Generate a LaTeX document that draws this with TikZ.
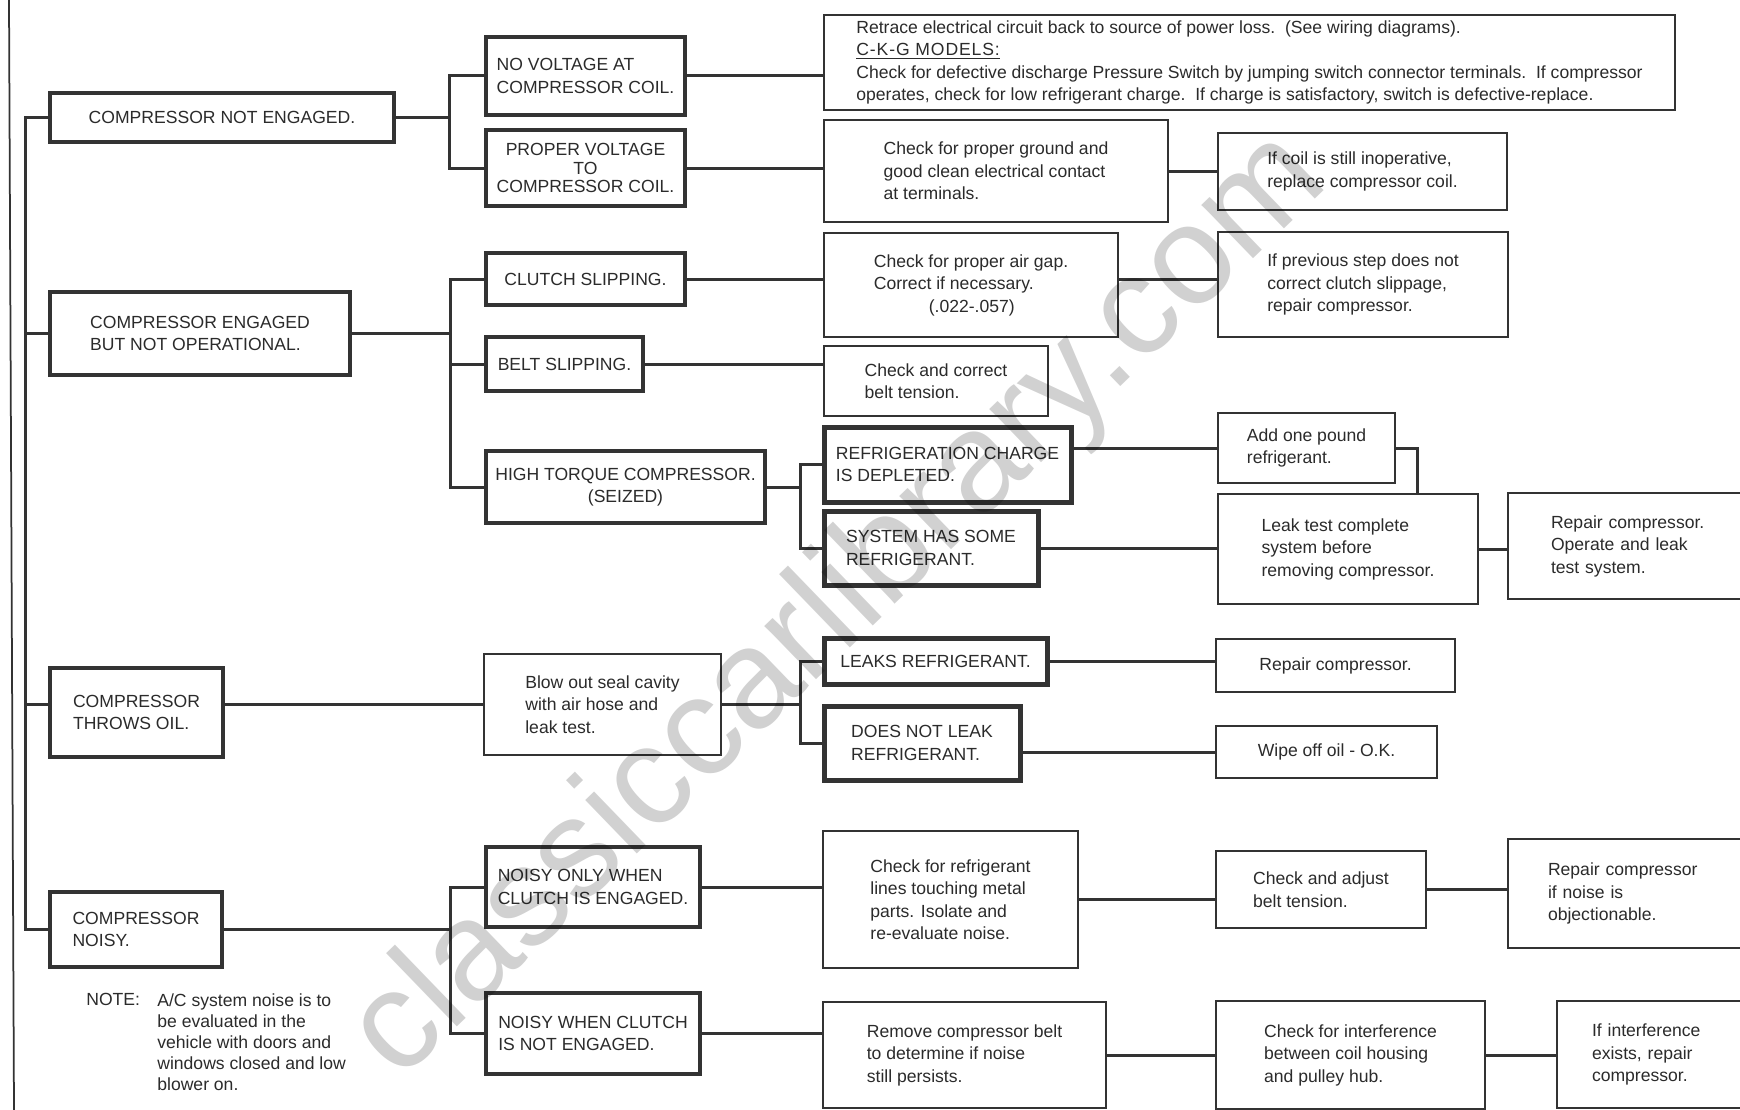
\documentclass[tikz,border=0pt]{standalone}
\usepackage{fontspec}
\setmainfont{Liberation Sans}
\usetikzlibrary{calc}
\definecolor{ink}{HTML}{333333}
\definecolor{inktext}{HTML}{2B2B2B}

\begin{document}
\begin{tikzpicture}[x=0.2mm,y=-0.2mm,
  box/.style={draw=ink,fill=white,inner sep=3pt,align=left,text=inktext,
    font=\fontsize{10}{12.8}\selectfont},
  wh/.style 2 args={minimum width=#1*0.2mm,minimum height=#2*0.2mm},
  symptom/.style={box,line width=0.7mm},
  condition/.style={box,line width=0.8mm},
  finding/.style={box,line width=1mm},
  remedy/.style={box,line width=0.4mm},
  conn/.style={draw=ink,line width=0.6mm},
  frame/.style={draw=ink,line width=0.35mm},
  notetext/.style={align=left,inner sep=0pt,text=inktext,font=\fontsize{10}{12}\selectfont},
  watermark/.style={text=black,text opacity=0.18,rotate=44,inner sep=0pt,font=\fontsize{80}{80}\selectfont}
]
\useasboundingbox (0,0) rectangle (1740,1110);
\fill[white] (0,0) rectangle (1740,1110);
\clip (0,0) rectangle (1740,1110);

% page edge
\draw[frame] (9,0) -- (14,1110);

% symptoms
\node[symptom,wh={344}{49}] (notengaged) at (222,117.5) {COMPRESSOR NOT ENGAGED.};
\node[symptom,wh={300}{83}] (notoperational) at (200,333.5) {COMPRESSOR ENGAGED\\BUT NOT OPERATIONAL.};
\node[symptom,wh={173}{89}] (throwsoil) at (136.5,712.5) {COMPRESSOR\\THROWS OIL.};
\node[symptom,wh={172}{75}] (noisy) at (136,929.5) {COMPRESSOR\\NOISY.};

% conditions
\node[condition,wh={199}{78}] (novoltage) at (585.5,76) {NO VOLTAGE AT\\COMPRESSOR COIL.};
\node[condition,wh={199}{76},align=center,font=\fontsize{10}{10.5}\selectfont] (propervoltage) at (585.5,168)
  {PROPER VOLTAGE\\TO\\COMPRESSOR COIL.};
\node[condition,wh={199}{52}] (clutchslip) at (585.5,279) {CLUTCH SLIPPING.};
\node[condition,wh={157}{54}] (beltslip) at (564.5,364) {BELT SLIPPING.};
\node[condition,wh={279}{72},align=center] (hightorque) at (625.5,487) {HIGH TORQUE COMPRESSOR.\\(SEIZED)};
\node[condition,wh={214}{80}] (noisyengaged) at (593,887) {NOISY ONLY WHEN\\CLUTCH IS ENGAGED.};
\node[condition,wh={214}{81}] (noisyfree) at (593,1033.5) {NOISY WHEN CLUTCH\\IS NOT ENGAGED.};
\node[remedy,wh={237}{101}] (blowout) at (602.5,704.5) {Blow out seal cavity\\with air hose and\\leak test.};

% findings
\node[finding,wh={247}{75}] (depleted) at (947.5,464.5) {REFRIGERATION CHARGE\\IS DEPLETED.};
\node[finding,wh={214}{74}] (somecharge) at (931,548) {SYSTEM HAS SOME\\REFRIGERANT.};
\node[finding,wh={223}{46}] (leaks) at (935.5,661) {LEAKS REFRIGERANT.};
\node[finding,wh={196}{74}] (noleak) at (922,743) {DOES NOT LEAK\\REFRIGERANT.};

% remedies
\node[remedy,wh={851}{95}] (retrace) at (1249.5,62.5)
  {Retrace electrical circuit back to source of power loss.\ \ (See wiring diagrams).\\
   {\addfontfeature{LetterSpace=5}\underline{C-K-G MODELS:}}\\
   Check for defective discharge Pressure Switch by jumping switch connector terminals.\ \ If compressor\\
   operates, check for low refrigerant charge.\ \ If charge is satisfactory, switch is defective-replace.};
\node[remedy,wh={344}{102}] (ground) at (996,171) {Check for proper ground and\\good clean electrical contact\\at terminals.};
\node[remedy,wh={289}{77}] (coil) at (1362.5,171.5) {If coil is still inoperative,\\replace compressor coil.};
\node[remedy,wh={294}{104}] (airgap) at (971,285) {Check for proper air gap.\\Correct if necessary.\\\hspace*{11mm}(.022-.057)};
\node[remedy,wh={290}{105}] (slippage) at (1363,284.5) {If previous step does not\\correct clutch slippage,\\repair compressor.};
\node[remedy,wh={224}{70}] (belttension) at (936,381) {Check and correct\\belt tension.};
\node[remedy,wh={177}{70}] (addpound) at (1306.5,448) {Add one pound\\refrigerant.};
\node[remedy,wh={260}{110}] (leaktest) at (1348,549) {Leak test complete\\system before\\removing compressor.};
\node[remedy,wh={245}{106},text width=31.8mm] (repairleak) at (1630.5,546) {Repair compressor.\\Operate and leak\\test system.};
\node[remedy,wh={239}{53}] (repair) at (1335.5,665.5) {Repair compressor.};
\node[remedy,wh={221}{52}] (wipe) at (1326.5,752) {Wipe off oil - O.K.};
\node[remedy,wh={255}{137}] (lines) at (950.5,899.5) {Check for refrigerant\\lines touching metal\\parts. Isolate and\\re-evaluate noise.};
\node[remedy,wh={210}{77}] (adjust) at (1321,889.5) {Check and adjust\\belt tension.};
\node[remedy,wh={245}{109},text width=33mm] (objectionable) at (1630.5,893.5) {Repair compressor\\if noise is\\objectionable.};
\node[remedy,wh={283}{106}] (removebelt) at (964.5,1055) {Remove compressor belt\\to determine if noise\\still persists.};
\node[remedy,wh={269}{108}] (interference) at (1350.5,1055) {Check for interference\\between coil housing\\and pulley hub.};
\node[remedy,wh={195}{107},text width=25mm] (interfere) at (1654.5,1054.5) {If interference\\exists, repair\\compressor.};

% note
\node[notetext,anchor=north west] (notehead) at (86,993) {NOTE:};
\node[notetext,anchor=north west] (notebody) at (157,993)
  {A/C system noise is to\\be evaluated in the\\vehicle with doors and\\windows closed and low\\blower on.};

% buses
\coordinate (mainbus) at (25,0);
\coordinate (coilbus) at (449,0);
\coordinate (clutchbus) at (450,0);
\coordinate (noisebus) at (450,0);
\coordinate (chargebus) at (800,0);
\coordinate (leakbus) at (800,0);

\draw[conn] (notengaged.west) -- (notengaged.west -| mainbus) -- (noisy.west -| mainbus) -- (noisy.west);
\draw[conn] (notoperational.west) -- (notoperational.west -| mainbus);
\draw[conn] (throwsoil.west |- blowout.west) -- (mainbus |- blowout.west);

\draw[conn] (notengaged.east) -- (notengaged.east -| coilbus);
\draw[conn] (novoltage.west) -- (novoltage.west -| coilbus) -- (propervoltage.west -| coilbus) -- (propervoltage.west);
\draw[conn] (notoperational.east) -- (notoperational.east -| clutchbus);
\draw[conn] (clutchslip.west) -- (clutchslip.west -| clutchbus) -- (hightorque.west -| clutchbus) -- (hightorque.west);
\draw[conn] (beltslip.west) -- (beltslip.west -| clutchbus);
\draw[conn] (hightorque.east) -- (hightorque.east -| chargebus);
\draw[conn] (depleted.west) -- (depleted.west -| chargebus) -- (somecharge.west -| chargebus) -- (somecharge.west);
\draw[conn] (throwsoil.east |- blowout.west) -- (blowout.west);
\draw[conn] (blowout.east) -- (blowout.east -| leakbus);
\draw[conn] (leaks.west) -- (leaks.west -| leakbus) -- (noleak.west -| leakbus) -- (noleak.west);
\draw[conn] (noisy.east) -- (noisy.east -| noisebus);
\draw[conn] (noisyengaged.west) -- (noisyengaged.west -| noisebus) -- (noisyfree.west -| noisebus) -- (noisyfree.west);

% to the remedies
\draw[conn] (novoltage.east) -- (novoltage.east -| retrace.west);
\draw[conn] (propervoltage.east) -- (propervoltage.east -| ground.west);
\draw[conn] (ground.east) -- (ground.east -| coil.west);
\draw[conn] (clutchslip.east) -- (clutchslip.east -| airgap.west);
\draw[conn] (airgap.east |- clutchslip.east) -- (slippage.west |- clutchslip.east);
\draw[conn] (beltslip.east) -- (beltslip.east -| belttension.west);
\draw[conn] (depleted.east |- addpound.west) -- (addpound.west);
\draw[conn] (addpound.east) -- ++(21,0) coordinate (poundbend) -- (poundbend |- leaktest.north);
\draw[conn] (somecharge.east) -- (somecharge.east -| leaktest.west);
\draw[conn] (leaktest.east) -- (leaktest.east -| repairleak.west);
\draw[conn] (leaks.east) -- (leaks.east -| repair.west);
\draw[conn] (noleak.east |- wipe.west) -- (wipe.west);
\draw[conn] (noisyengaged.east) -- (noisyengaged.east -| lines.west);
\draw[conn] (lines.east) -- (lines.east -| adjust.west);
\draw[conn] (adjust.east) -- (adjust.east -| objectionable.west);
\draw[conn] (noisyfree.east) -- (noisyfree.east -| removebelt.west);
\draw[conn] (removebelt.east) -- (removebelt.east -| interference.west);
\draw[conn] (interference.east) -- (interference.east -| interfere.west);

\node[watermark] (wmark) at (840,607) {classiccarlibrary.com};
\end{tikzpicture}
\end{document}
